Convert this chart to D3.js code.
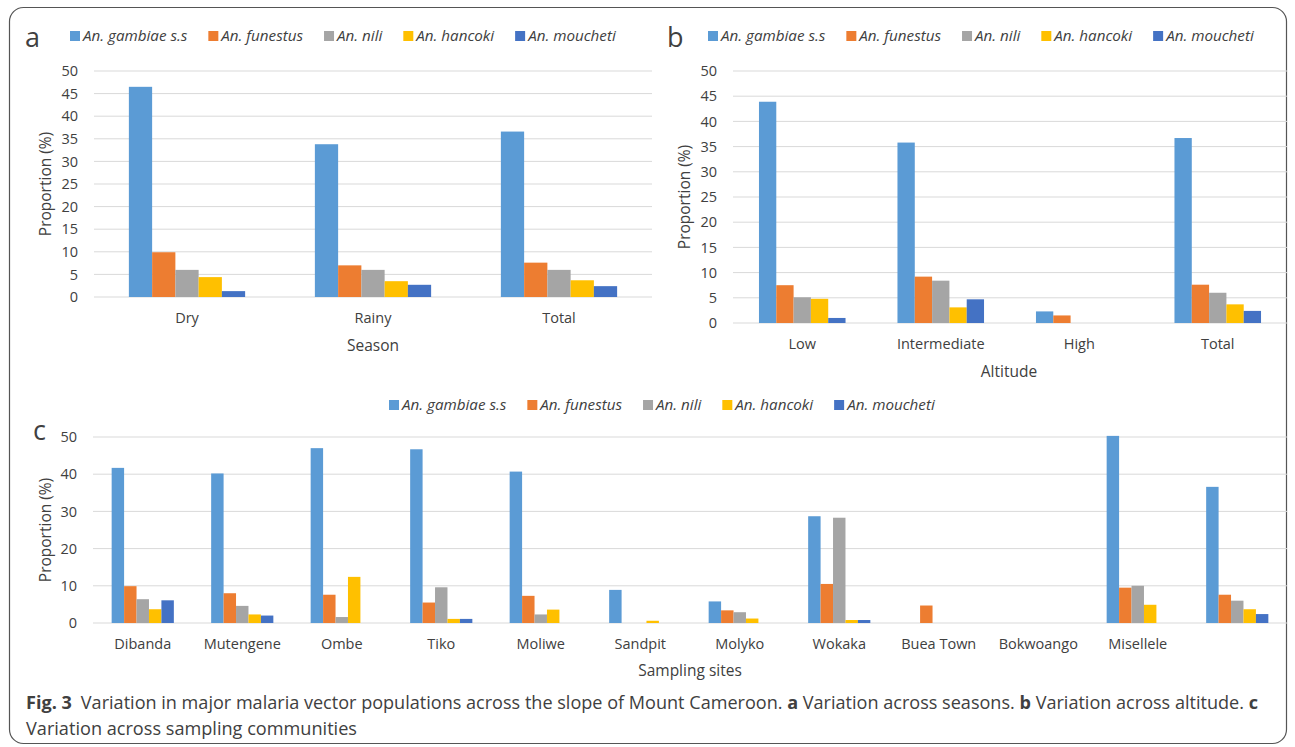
<!DOCTYPE html>
<html>
<head>
<meta charset="utf-8">
<script src="https://cdn.jsdelivr.net/npm/d3@7"></script>
<style>
  body { margin: 0; background: #fff; }
  svg { display: block; }
  text { font-family: "Open Sans", "Noto Sans", sans-serif; fill: #404040; }
</style>
</head>
<body>
<div id="chart"></div>
<script>
const species = ['An. gambiae s.s', 'An. funestus', 'An. nili', 'An. hancoki', 'An. moucheti'];
const colors = ['#5b9bd5', '#ed7d31', '#a5a5a5', '#ffc000', '#4472c4'];

// panel a: season
const seasons = ['Dry', 'Rainy', 'Total'];
const seasonValues = [
    [46.5, 9.9, 6.0, 4.4, 1.3],
    [33.8, 7.0, 6.0, 3.5, 2.7],
    [36.6, 7.6, 6.0, 3.7, 2.4]
];
const ticksA = [0, 5, 10, 15, 20, 25, 30, 35, 40, 45, 50];

// panel b: altitude
const altitudes = ['Low', 'Intermediate', 'High', 'Total'];
const altitudeValues = [
    [43.9, 7.5, 5.1, 4.8, 1.0],
    [35.8, 9.2, 8.4, 3.1, 4.7],
    [2.3, 1.5, 0, 0, 0],
    [36.7, 7.6, 6.0, 3.7, 2.4]
];
const ticksB = [0, 5, 10, 15, 20, 25, 30, 35, 40, 45, 50];

// panel c: sampling sites (last group has no label)
const sites = ['Dibanda', 'Mutengene', 'Ombe', 'Tiko', 'Moliwe', 'Sandpit', 'Molyko', 'Wokaka',
    'Buea Town', 'Bokwoango', 'Misellele', ''];
const siteValues = [
    [41.7, 9.9, 6.4, 3.7, 6.1],
    [40.2, 8.0, 4.6, 2.3, 2.0],
    [47.0, 7.6, 1.6, 12.4, 0],
    [46.7, 5.5, 9.6, 1.1, 1.1],
    [40.7, 7.3, 2.3, 3.6, 0],
    [8.9, 0, 0, 0.6, 0],
    [5.8, 3.4, 2.9, 1.2, 0],
    [28.7, 10.5, 28.3, 0.8, 0.8],
    [0, 4.7, 0, 0, 0],
    [0, 0, 0, 0, 0],
    [50.3, 9.5, 10.0, 4.9, 0],
    [36.6, 7.6, 6.0, 3.7, 2.4]
];
const ticksC = [0, 10, 20, 30, 40, 50];

const width = 1295, height = 747;
const svg = d3.select('#chart').append('svg')
    .attr('width', width)
    .attr('height', height);

svg.append('rect')
    .attr('x', 9.5).attr('y', 7.5)
    .attr('width', 1277).attr('height', 736)
    .attr('rx', 14)
    .attr('fill', 'none')
    .attr('stroke', '#555')
    .attr('stroke-width', 1.2);

function drawPanel(p) {
    const g = svg.append('g');

    const x = d3.scaleBand().domain(d3.range(p.cats.length)).range([p.left, p.right]);
    // excel style gap width: group takes ~5/8 of the band
    const x1 = d3.scaleBand().domain(d3.range(species.length))
        .range([0, x.bandwidth()]).paddingOuter(1.5);
    const y = d3.scaleLinear().domain([0, 50]).range([p.bottom, p.top]);

    // gridlines
    g.selectAll('.grid').data(p.ticks).enter().append('line')
        .attr('x1', p.left).attr('x2', p.right)
        .attr('y1', d => y(d)).attr('y2', d => y(d))
        .attr('stroke', '#d9d9d9').attr('stroke-width', 1);

    const yAxis = d3.axisLeft(y).tickValues(p.ticks).tickSize(0).tickPadding(0);
    const ya = g.append('g').attr('transform', 'translate(' + (p.left - 16) + ',0)').call(yAxis);
    ya.select('.domain').remove();
    ya.selectAll('text').style('font-size', '14.5px').attr('fill', '#404040')
        .style('font-family', '"Open Sans", sans-serif');

    // bars
    const groups = g.selectAll('.grp').data(p.values).enter().append('g')
        .attr('transform', (d, i) => 'translate(' + x(i) + ',0)');
    groups.selectAll('rect').data(d => d).enter().append('rect')
        .attr('x', (d, j) => x1(j))
        .attr('width', x1.bandwidth())
        .attr('y', d => y(d))
        .attr('height', d => p.bottom - y(d))
        .attr('fill', (d, j) => colors[j]);

    // category labels
    g.selectAll('.cat').data(p.cats).enter().append('text')
        .attr('x', (d, i) => x(i) + x.bandwidth() / 2)
        .attr('y', p.bottom + 26)
        .attr('text-anchor', 'middle')
        .style('font-size', '14.5px')
        .text(d => d);

    // axis titles
    g.append('text')
        .attr('x', (p.left + p.right) / 2 + (p.titleShift || 0))
        .attr('y', p.bottom + p.titleGap)
        .attr('text-anchor', 'middle')
        .style('font-size', '15.5px')
        .text(p.xTitle);

    g.append('text')
        .attr('transform', 'translate(' + p.yTitleX + ',' + (p.top + p.bottom) / 2 + ') rotate(-90)')
        .attr('text-anchor', 'middle')
        .style('font-size', '15.5px')
        .text('Proportion (%)');

    // panel letter
    g.append('text')
        .attr('x', p.letterX).attr('y', p.letterY)
        .style('font-size', '27px')
        .attr('fill', '#000')
        .text(p.letter);

    // legend
    const lg = g.append('g');
    let lx = p.legendX;
    species.forEach((s, j) => {
        lg.append('rect')
            .attr('x', lx).attr('y', p.legendY - 5)
            .attr('width', 10).attr('height', 10)
            .attr('fill', colors[j]);
        const t = lg.append('text')
            .attr('x', lx + 13).attr('y', p.legendY + 5)
            .style('font-size', '15.2px')
            .style('font-style', 'italic')
            .text(s);
        lx += 13 + t.node().getComputedTextLength() + p.legendGap;
    });
}

drawPanel({
    cats: seasons, values: seasonValues, ticks: ticksA,
    left: 94, right: 652, top: 71, bottom: 297,
    xTitle: 'Season', titleGap: 54, yTitleX: 51,
    letter: 'a', letterX: 25, letterY: 47,
    legendX: 70, legendY: 36, legendGap: 21
});

drawPanel({
    cats: altitudes, values: altitudeValues, ticks: ticksB,
    left: 733, right: 1287, top: 71, bottom: 323,
    xTitle: 'Altitude', titleGap: 54, titleShift: -1, yTitleX: 690,
    letter: 'b', letterX: 667, letterY: 47,
    legendX: 708, legendY: 36, legendGap: 21
});

drawPanel({
    cats: sites, values: siteValues, ticks: ticksC,
    left: 93, right: 1287, top: 437, bottom: 623,
    xTitle: 'Sampling sites', titleGap: 53, titleShift: 0, yTitleX: 51,
    letter: 'c', letterX: 33, letterY: 440,
    legendX: 389, legendY: 405, legendGap: 21
});

// caption
const cap = svg.append('text')
    .attr('x', 26).attr('y', 709)
    .attr('textLength', 1232)
    .attr('lengthAdjust', 'spacingAndGlyphs')
    .style('font-family', '"Open Sans", sans-serif')
    .style('font-size', '18px')
    .attr('fill', '#231f20');
cap.append('tspan').style('font-weight', 'bold').text('Fig. 3');
cap.append('tspan').text('\u2002Variation in major malaria vector populations across the slope of Mount Cameroon. ');
cap.append('tspan').style('font-weight', 'bold').text('a');
cap.append('tspan').text(' Variation across seasons. ');
cap.append('tspan').style('font-weight', 'bold').text('b');
cap.append('tspan').text(' Variation across altitude. ');
cap.append('tspan').style('font-weight', 'bold').text('c');

svg.append('text')
    .attr('x', 26).attr('y', 735)
    .attr('textLength', 331)
    .attr('lengthAdjust', 'spacingAndGlyphs')
    .style('font-family', '"Open Sans", sans-serif')
    .style('font-size', '18px')
    .attr('fill', '#231f20')
    .text('Variation across sampling communities');
</script>
</body>
</html>
